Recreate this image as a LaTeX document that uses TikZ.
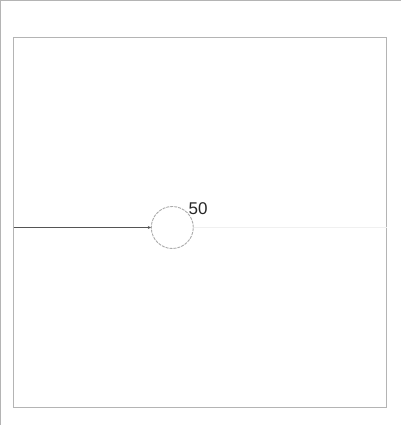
\documentclass[tikz,border=0pt]{standalone}
\usepackage{fontspec}
\setmainfont{Liberation Sans}
\usetikzlibrary{arrows.meta}
\definecolor{framegray}{HTML}{B4B4B4}
\definecolor{edgegray}{HTML}{555555}
\definecolor{faintgray}{HTML}{F0F0F0}
\definecolor{circgray}{HTML}{AAAAAA}
\tikzset{
  frame/.style={draw=framegray, line width=1pt},
  vertex/.style={circle, draw=circgray, dash pattern=on 3pt off 1pt, line width=0.9pt, minimum size=42pt, inner sep=0pt},
  inedge/.style={draw=edgegray, line width=1.3pt, -{Stealth[length=3pt,width=3pt]}},
  outedge/.style={draw=faintgray, line width=1pt},
  lbl/.style={font=\fontsize{17pt}{17pt}\selectfont, text=black!85, inner sep=0pt, anchor=south west}
}
\begin{document}
\begin{tikzpicture}[x=1pt,y=-1pt]
\useasboundingbox (0,0) rectangle (401,425);
\draw[frame] (0,0.5) -- (401,0.5);
\draw[frame] (0.5,0) -- (0.5,425);
\draw[frame] (13.5,37.5) rectangle (386.5,407.5);
\node[vertex] (c) at (172.3,227.5) {};
\coordinate (l) at (13.5,227.5);
\coordinate (r) at (386.5,227.5);
\draw[inedge] (l) -- (c);
\draw[outedge] (c) -- (r);
\node[lbl] (t) at (188.5,214.5) {50};
\end{tikzpicture}
\end{document}
